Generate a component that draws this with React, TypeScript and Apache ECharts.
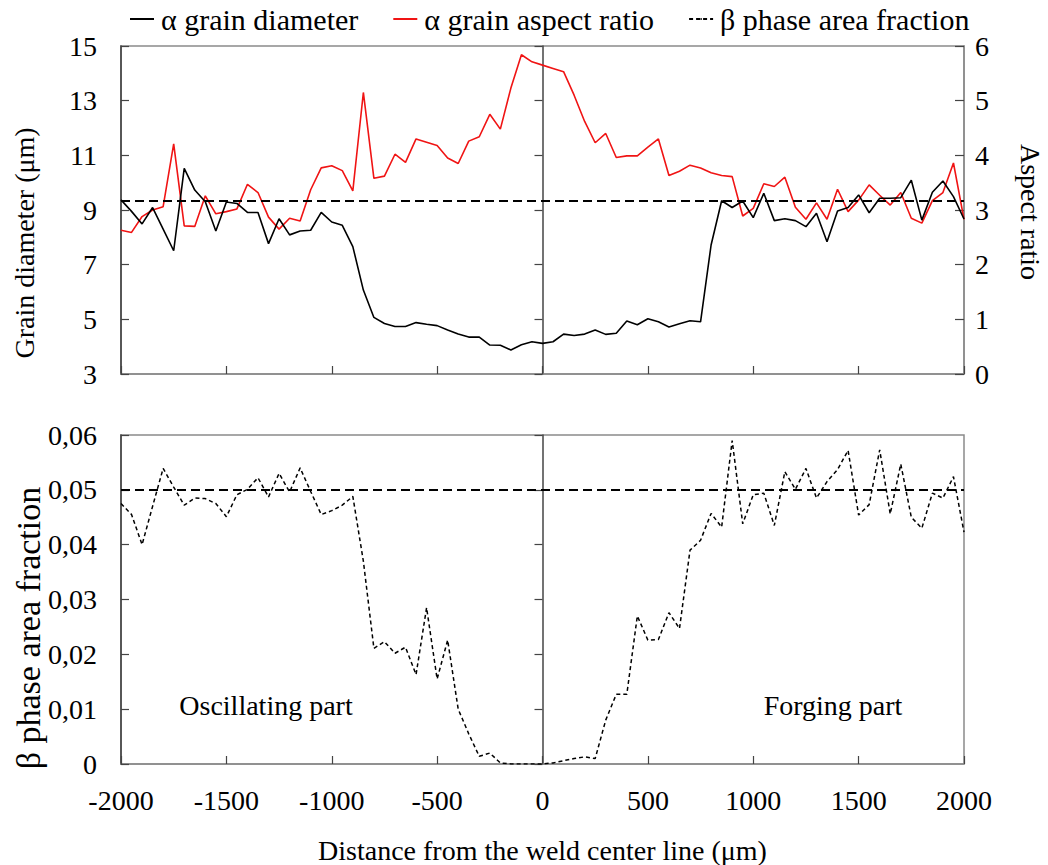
import React, { useEffect, useRef } from "react";
import * as echarts from "echarts";

const distance = [
  -2000, -1950, -1900, -1850, -1800, -1750, -1700, -1650, -1600, -1550,
  -1500, -1450, -1400, -1350, -1300, -1250, -1200, -1150, -1100, -1050,
  -1000, -950, -900, -850, -800, -750, -700, -650, -600, -550,
  -500, -450, -400, -350, -300, -250, -200, -150, -100, -50,
  0, 50, 100, 150, 200, 250, 300, 350, 400, 450,
  500, 550, 600, 650, 700, 750, 800, 850, 900, 950,
  1000, 1050, 1100, 1150, 1200, 1250, 1300, 1350, 1400, 1450,
  1500, 1550, 1600, 1650, 1700, 1750, 1800, 1850, 1900, 1950,
  2000,
];

const grainDiameter = [
  9.37, 8.95, 8.49, 9.09, 8.3, 7.51, 10.52, 9.73, 9.3, 8.23,
  9.29, 9.24, 8.91, 8.91, 7.77, 8.68, 8.09, 8.23, 8.26, 8.91,
  8.56, 8.44, 7.66, 6.07, 5.07, 4.85, 4.74, 4.74, 4.88, 4.82,
  4.77, 4.61, 4.46, 4.35, 4.35, 4.06, 4.05, 3.88, 4.07, 4.18,
  4.12, 4.18, 4.46, 4.41, 4.46, 4.61, 4.45, 4.49, 4.94, 4.8,
  5.02, 4.91, 4.72, 4.84, 4.95, 4.91, 7.72, 9.34, 9.09, 9.33,
  8.72, 9.61, 8.61, 8.68, 8.61, 8.39, 8.88, 7.84, 8.96, 9.09,
  9.55, 8.9, 9.43, 9.43, 9.45, 10.09, 8.63, 9.65, 10.06, 9.49,
  8.67,
];

const aspectRatio = [
  2.63, 2.59, 2.88, 3.0, 3.06, 4.21, 2.71, 2.7, 3.26, 2.93,
  2.97, 3.02, 3.47, 3.32, 2.87, 2.65, 2.85, 2.8, 3.37, 3.77,
  3.81, 3.72, 3.35, 5.15, 3.58, 3.62, 4.02, 3.87, 4.3, 4.24,
  4.18, 3.95, 3.85, 4.26, 4.34, 4.75, 4.48, 5.23, 5.84, 5.71,
  5.65, 5.59, 5.53, 5.1, 4.62, 4.23, 4.4, 3.96, 3.99, 3.99,
  4.15, 4.3, 3.63, 3.71, 3.82, 3.77, 3.68, 3.63, 3.61, 2.89,
  3.03, 3.48, 3.43, 3.6, 3.05, 2.83, 3.13, 2.83, 3.38, 2.97,
  3.18, 3.46, 3.27, 3.09, 3.32, 2.85, 2.76, 3.17, 3.32, 3.86,
  2.83,
];

const betaFraction = [
  0.0475, 0.0455, 0.04, 0.047, 0.0539, 0.0505, 0.0472, 0.0485, 0.0484, 0.0475,
  0.0451, 0.0491, 0.0501, 0.0522, 0.0487, 0.053, 0.0496, 0.054, 0.0497, 0.0455,
  0.0462, 0.0472, 0.0488, 0.037, 0.0211, 0.0223, 0.0202, 0.0213, 0.0163, 0.0285,
  0.0155, 0.0226, 0.01, 0.0055, 0.0014, 0.002, 0.0002, 0, 0, 0,
  0, 0.0002, 0.0006, 0.001, 0.0013, 0.001, 0.008, 0.0127, 0.0127, 0.027,
  0.0226, 0.0227, 0.0276, 0.0247, 0.039, 0.0408, 0.0457, 0.0432, 0.059, 0.0438,
  0.0491, 0.0494, 0.0435, 0.0533, 0.0501, 0.0539, 0.0485, 0.0515, 0.0537, 0.0572,
  0.0454, 0.0473, 0.0573, 0.0456, 0.0547, 0.045, 0.043, 0.0494, 0.0485, 0.0524,
  0.0423,
];

const baseDiameterLevel = [9.34];
const baseBetaLevel = [0.05];

const seriesNames = ["α grain diameter", "α grain aspect ratio", "β phase area fraction"];
const regionLabels = ["Oscillating part", "Forging part"];
const axisTitles = [
  "Grain diameter (μm)",
  "Aspect ratio",
  "β phase area fraction",
  "Distance from the weld center line (μm)",
];

const FONT = "Liberation Serif";
const FRAME = "#8a8a8a";
const CENTER = "#444";

export default function App() {
  const ref = useRef<HTMLDivElement>(null);

  useEffect(() => {
    if (!ref.current) return;
    const chart = echarts.init(ref.current, undefined, { renderer: "svg" });

    const pair = (vals: number[]) => distance.map((d, i) => [d, vals[i]]);

    const xBase = (gridIndex: number, showLabels: boolean) => ({
      gridIndex,
      type: "value",
      min: -2000,
      max: 2000,
      interval: 500,
      axisLine: { onZero: false, lineStyle: { color: FRAME, width: 1.5 } },
      axisTick: { inside: true, length: 8, lineStyle: { color: CENTER, width: 1.2 } },
      axisLabel: {
        show: showLabels,
        fontSize: 28,
        color: "#000",
        fontFamily: FONT,
        margin: 22,
        formatter: (v: number) => String(v),
      },
      splitLine: { show: false },
    });

    const centerAxis = (gridIndex: number, min: number, max: number, interval: number, inside: boolean) => ({
      gridIndex,
      type: "value",
      position: "left",
      min,
      max,
      interval,
      axisLine: { show: true, onZero: true, lineStyle: { color: CENTER, width: 1.5 } },
      axisTick: { show: true, inside, length: 8, lineStyle: { color: CENTER, width: 1.2 } },
      axisLabel: { show: false },
      splitLine: { show: false },
    });

    const option = {
      animation: false,
      textStyle: { fontFamily: FONT },
      legend: {
        top: -1,
        left: 124,
        itemGap: 34,
        itemWidth: 24,
        itemHeight: 2,
        textStyle: { fontSize: 30, color: "#000", fontFamily: FONT, padding: [0, 0, 0, 2] },
        data: seriesNames,
      },
      grid: [
        { left: 121, right: 84, top: 46, height: 328, show: true, borderColor: FRAME, borderWidth: 1.5 },
        { left: 121, right: 84, top: 435, height: 334, show: true, borderColor: FRAME, borderWidth: 1.5 },
      ],
      xAxis: [
        xBase(0, false),
        {
          ...xBase(1, true),
          name: axisTitles[3],
          nameLocation: "middle",
          nameGap: 72,
          nameTextStyle: { fontSize: 28, color: "#000", fontFamily: FONT },
        },
      ],
      yAxis: [
        {
          gridIndex: 0,
          type: "value",
          position: "left",
          min: 3,
          max: 15,
          interval: 2,
          axisLine: { show: true, onZero: false, lineStyle: { color: FRAME, width: 1.5 } },
          axisTick: { show: false },
          axisLabel: { fontSize: 28, color: "#000", fontFamily: FONT, margin: 24 },
          splitLine: { show: false },
        },
        {
          gridIndex: 0,
          type: "value",
          position: "right",
          min: 0,
          max: 6,
          interval: 1,
          axisLine: { show: true, onZero: false, lineStyle: { color: FRAME, width: 1.5 } },
          axisTick: { show: true, inside: true, length: 9, lineStyle: { color: CENTER, width: 1.2 } },
          axisLabel: { fontSize: 28, color: "#000", fontFamily: FONT, margin: 11 },
          splitLine: { show: false },
        },
        centerAxis(0, 3, 15, 2, false),
        centerAxis(0, 3, 15, 2, true),
        {
          gridIndex: 1,
          type: "value",
          position: "left",
          min: 0,
          max: 0.06,
          interval: 0.01,
          axisLine: { show: true, onZero: false, lineStyle: { color: FRAME, width: 1.5 } },
          axisTick: { show: false },
          axisLabel: {
            fontSize: 28,
            color: "#000",
            fontFamily: FONT,
            margin: 24,
            formatter: (v: number) => (v === 0 ? "0" : v.toFixed(2).replace(".", ",")),
          },
          splitLine: { show: false },
        },
        centerAxis(1, 0, 0.06, 0.01, false),
        centerAxis(1, 0, 0.06, 0.01, true),
      ],
      series: [
        {
          name: seriesNames[0],
          type: "line",
          xAxisIndex: 0,
          yAxisIndex: 0,
          data: pair(grainDiameter),
          symbol: "none",
          z: 3,
          lineStyle: { color: "#000", width: 1.6 },
          itemStyle: { color: "#000" },
          markLine: {
            silent: true,
            symbol: "none",
            label: { show: false },
            lineStyle: { color: "#000", type: [9, 5], width: 1.8 },
            data: baseDiameterLevel.map((v) => ({ yAxis: v })),
          },
        },
        {
          name: seriesNames[1],
          type: "line",
          xAxisIndex: 0,
          yAxisIndex: 1,
          data: pair(aspectRatio),
          symbol: "none",
          z: 2,
          lineStyle: { color: "#f01414", width: 1.6 },
          itemStyle: { color: "#f01414" },
        },
        {
          name: seriesNames[2],
          type: "line",
          xAxisIndex: 1,
          yAxisIndex: 4,
          data: pair(betaFraction),
          symbol: "none",
          lineStyle: { color: "#000", width: 1.5, type: [4, 3] },
          itemStyle: { color: "#000" },
          markLine: {
            silent: true,
            symbol: "none",
            label: { show: false },
            lineStyle: { color: "#000", type: [9, 5], width: 1.8 },
            data: baseBetaLevel.map((v) => ({ yAxis: v })),
          },
        },
      ],
      graphic: [
        {
          type: "text",
          x: 24,
          y: 243,
          rotation: Math.PI / 2,
          style: { text: axisTitles[0], font: `28px ${FONT}`, fill: "#000", align: "center", verticalAlign: "middle" },
        },
        {
          type: "text",
          x: 1030,
          y: 212,
          rotation: -Math.PI / 2,
          style: { text: axisTitles[1], font: `28px ${FONT}`, fill: "#000", align: "center", verticalAlign: "middle" },
        },
        {
          type: "text",
          x: 28,
          y: 628,
          rotation: Math.PI / 2,
          style: { text: axisTitles[2], font: `34px ${FONT}`, fill: "#000", align: "center", verticalAlign: "middle" },
        },
        {
          type: "text",
          x: 266,
          y: 705,
          style: { text: regionLabels[0], font: `28px ${FONT}`, fill: "#000", align: "center", verticalAlign: "middle" },
        },
        {
          type: "text",
          x: 833,
          y: 705,
          style: { text: regionLabels[1], font: `28px ${FONT}`, fill: "#000", align: "center", verticalAlign: "middle" },
        },
      ],
    };

    chart.setOption(option as any);
    return () => chart.dispose();
  }, []);

  return (
    <div
      ref={ref}
      style={{ position: "absolute", left: 0, top: 0, width: 1048, height: 865, background: "#fff" }}
    />
  );
}
